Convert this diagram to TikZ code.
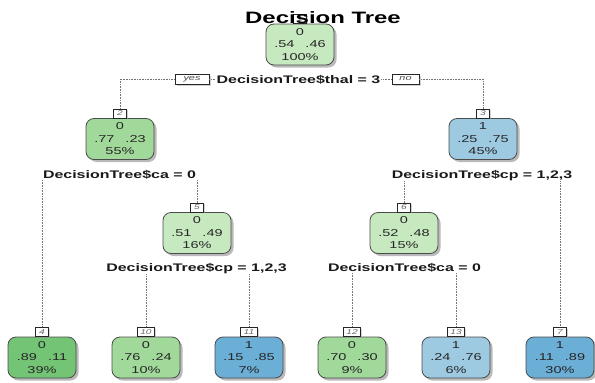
\documentclass[tikz,border=0pt]{standalone}
\usepackage{fontspec}
\setmainfont{Liberation Sans}
\newfontfamily\widefont[FakeStretch=1.45]{Liberation Sans}
\usetikzlibrary{shadows}

\definecolor{gLight}{RGB}{199,233,192}
\definecolor{gMid}{RGB}{161,217,155}
\definecolor{gDark}{RGB}{116,196,118}
\definecolor{bLight}{RGB}{158,202,225}
\definecolor{bDark}{RGB}{107,174,214}

\begin{document}
\begin{tikzpicture}[x=1pt,y=-1pt,
  leaf/.style={draw=black!70, line width=0.8pt, rounded corners=8pt,
    minimum width=68pt, minimum height=41pt, inner sep=0pt, align=center,
    font=\widefont\fontsize{10}{12.5}\selectfont, text=black!85,
    drop shadow={shadow xshift=2.5pt, shadow yshift=-2.5pt, fill=black!45, opacity=.6}},
  num/.style={draw=black!85, fill=white, line width=0.6pt, inner ysep=0pt, inner xsep=3pt,
    minimum height=9pt, minimum width=13pt, anchor=south,
    font=\widefont\itshape\fontsize{7}{7}\selectfont, text=black!60,
    drop shadow={shadow xshift=1.5pt, shadow yshift=-1.5pt, fill=black!35, opacity=.5}},
  yesno/.style={draw=black!85, fill=white, line width=0.6pt, inner ysep=0pt,
    minimum height=10pt, font=\widefont\itshape\fontsize{7.5}{8}\selectfont, text=black!70,
    drop shadow={shadow xshift=1.5pt, shadow yshift=-1.5pt, fill=black!35, opacity=.5}},
  split/.style={anchor=base, inner sep=1pt, text=black!90,
    font=\widefont\bfseries\fontsize{11}{13}\selectfont},
  branch/.style={densely dotted, line width=0.6pt, black!55}]

\useasboundingbox (0,0) rectangle (595,383);

\node [leaf, fill=gLight] (n1) at (300,44.5) {0\\.54\hspace{11pt}.46\\100\%};
\node [num] (n1lab) at (n1.north) {1};
\node [anchor=base, inner sep=0pt, font=\widefont\bfseries\fontsize{16.5}{18}\selectfont] (title) at (323,23) {Decision Tree};

\node [split] (s1) at (298.5,83) {DecisionTree\$thal = 3};
\node [yesno, minimum width=34pt] (yes) at (192,79) {yes};
\node [yesno, minimum width=27pt] (no) at (405.5,79) {no};

\node [leaf, fill=gMid] (n2) at (120,139) {0\\.77\hspace{11pt}.23\\55\%};
\node [num] (n2lab) at (n2.north) {2};
\node [leaf, fill=bLight] (n3) at (483,139) {1\\.25\hspace{11pt}.75\\45\%};
\node [num] (n3lab) at (n3.north) {3};

\node [split] (s2) at (119.5,178) {DecisionTree\$ca = 0};
\node [split] (s3) at (482,178) {DecisionTree\$cp = 1,2,3};

\node [leaf, fill=gLight] (n5) at (197,233) {0\\.51\hspace{11pt}.49\\16\%};
\node [num] (n5lab) at (n5.north) {5};
\node [leaf, fill=gLight] (n6) at (404,233) {0\\.52\hspace{11pt}.48\\15\%};
\node [num] (n6lab) at (n6.north) {6};

\node [split] (s5) at (196.5,271) {DecisionTree\$cp = 1,2,3};
\node [split] (s6) at (404.5,271) {DecisionTree\$ca = 0};

\node [leaf, fill=gDark] (n4) at (42,357.5) {0\\.89\hspace{11pt}.11\\39\%};
\node [num] (n4lab) at (n4.north) {4};
\node [leaf, fill=gMid] (n10) at (146,357.5) {0\\.76\hspace{11pt}.24\\10\%};
\node [num] (n10lab) at (n10.north) {10};
\node [leaf, fill=bDark] (n11) at (249,357.5) {1\\.15\hspace{11pt}.85\\7\%};
\node [num] (n11lab) at (n11.north) {11};
\node [leaf, fill=gMid] (n12) at (352,357.5) {0\\.70\hspace{11pt}.30\\9\%};
\node [num] (n12lab) at (n12.north) {12};
\node [leaf, fill=bLight] (n13) at (456,357.5) {1\\.24\hspace{11pt}.76\\6\%};
\node [num] (n13lab) at (n13.north) {13};
\node [leaf, fill=bDark] (n7) at (560,357.5) {1\\.11\hspace{11pt}.89\\30\%};
\node [num] (n7lab) at (n7.north) {7};

\draw [branch] (n2lab.north) -- (yes.west -| n2lab) -- (yes.west);
\draw [branch] (yes.east) -- (s1.west |- yes);
\draw [branch] (s1.east |- no) -- (no.west);
\draw [branch] (no.east) -- (no.east -| n3lab) -- (n3lab.north);

\draw [branch] (s2.south -| n4lab) -- (n4lab.north);
\draw [branch] (s2.south -| n5lab) -- (n5lab.north);
\draw [branch] (s3.south -| n6lab) -- (n6lab.north);
\draw [branch] (s3.south -| n7lab) -- (n7lab.north);
\draw [branch] (s5.south -| n10lab) -- (n10lab.north);
\draw [branch] (s5.south -| n11lab) -- (n11lab.north);
\draw [branch] (s6.south -| n12lab) -- (n12lab.north);
\draw [branch] (s6.south -| n13lab) -- (n13lab.north);

\end{tikzpicture}
\end{document}
